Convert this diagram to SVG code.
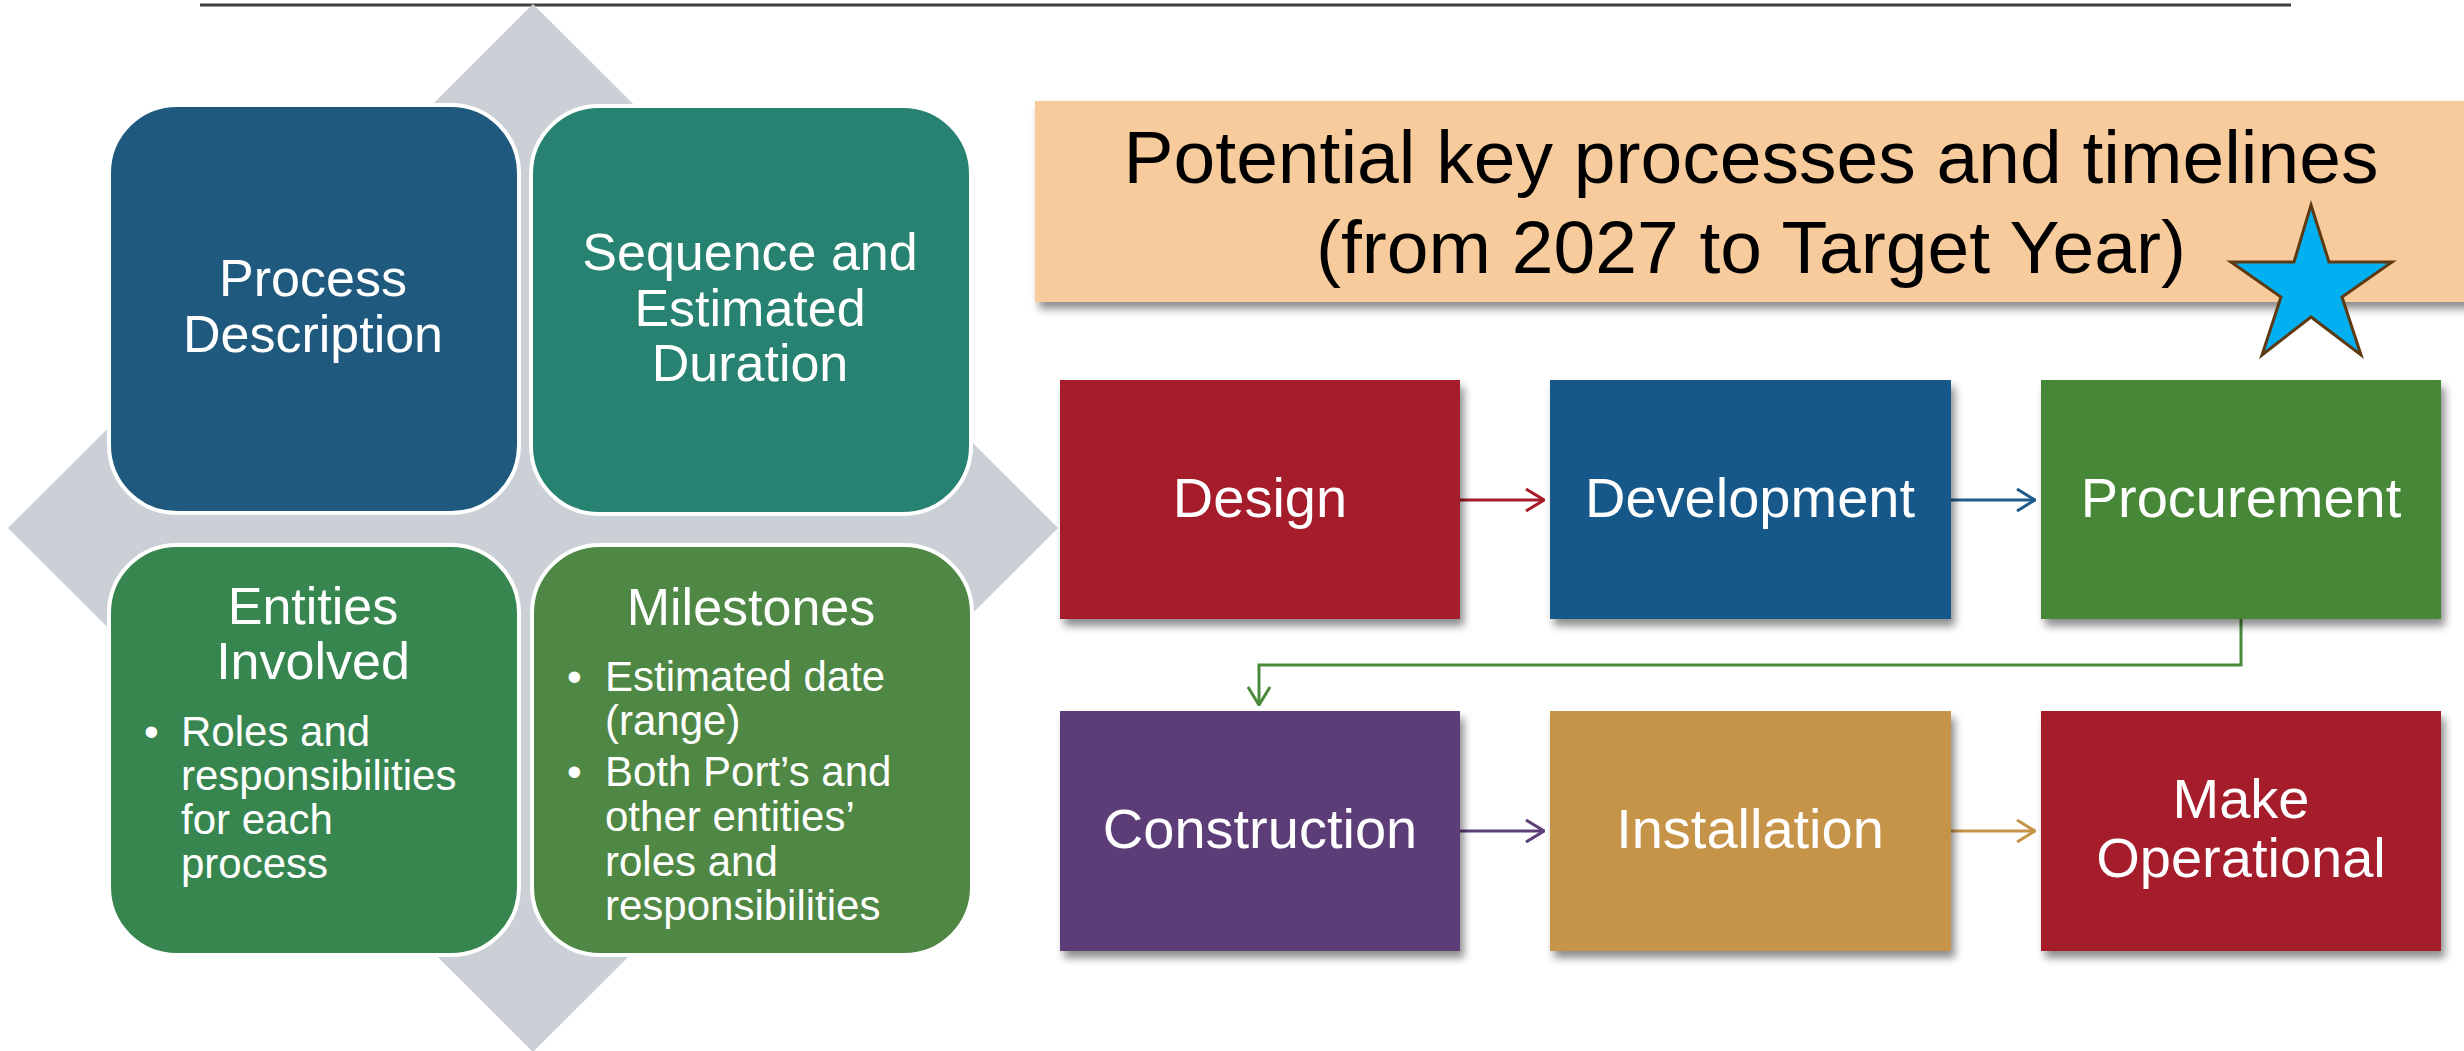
<svg xmlns="http://www.w3.org/2000/svg" width="2464" height="1051" viewBox="0 0 2464 1051">
<defs>
<style>
text{font-family:"Liberation Sans",Arial,sans-serif;fill:#fff}
.q{stroke:#fff;stroke-width:4}
.t1{font-size:52px;text-anchor:middle}
.b{font-size:42px}
.p{font-size:56px;text-anchor:middle}
.proc{filter:url(#sh)}
.c{fill:none;stroke-width:3}
</style>
<filter id="sh" x="-10%" y="-10%" width="125%" height="125%">
<feGaussianBlur in="SourceAlpha" stdDeviation="4"/>
<feOffset dx="4" dy="7" result="o"/>
<feComponentTransfer><feFuncA type="linear" slope="0.45"/></feComponentTransfer>
<feMerge><feMergeNode/><feMergeNode in="SourceGraphic"/></feMerge>
</filter>
<marker id="ar1" viewBox="0 0 20 24" refX="19" refY="12" markerWidth="20" markerHeight="24" markerUnits="userSpaceOnUse" orient="auto"><path d="M1 1 L19 12 L1 23" fill="none" stroke="#A51C2C" stroke-width="3"/></marker>
<marker id="ar2" viewBox="0 0 20 24" refX="19" refY="12" markerWidth="20" markerHeight="24" markerUnits="userSpaceOnUse" orient="auto"><path d="M1 1 L19 12 L1 23" fill="none" stroke="#1E5C8C" stroke-width="3"/></marker>
<marker id="ar3" viewBox="0 0 20 24" refX="19" refY="12" markerWidth="20" markerHeight="24" markerUnits="userSpaceOnUse" orient="auto"><path d="M1 1 L19 12 L1 23" fill="none" stroke="#4A8A3C" stroke-width="3"/></marker>
<marker id="ar4" viewBox="0 0 20 24" refX="19" refY="12" markerWidth="20" markerHeight="24" markerUnits="userSpaceOnUse" orient="auto"><path d="M1 1 L19 12 L1 23" fill="none" stroke="#5C3E78" stroke-width="3"/></marker>
<marker id="ar5" viewBox="0 0 20 24" refX="19" refY="12" markerWidth="20" markerHeight="24" markerUnits="userSpaceOnUse" orient="auto"><path d="M1 1 L19 12 L1 23" fill="none" stroke="#C69448" stroke-width="3"/></marker>
</defs>
<rect width="2464" height="1051" fill="#fff"/>
<line x1="200" y1="5" x2="2291" y2="5" stroke="#404040" stroke-width="3"/>

<g id="diamond"><polygon points="533,4 1058,528 533,1052 8,528" fill="#CBD0D6"/></g>

<g id="process-description">
<rect class="q" x="109" y="105" width="410" height="408" rx="68" fill="#1F5A7E"/>
<text class="t1" x="313" y="296">Process</text>
<text class="t1" x="313" y="352">Description</text>
</g>
<g id="sequence">
<rect class="q" x="531" y="106" width="440" height="408" rx="68" fill="#278272"/>
<text class="t1" x="750" y="270">Sequence and</text>
<text class="t1" x="750" y="326">Estimated</text>
<text class="t1" x="750" y="381">Duration</text>
</g>
<g id="entities">
<rect class="q" x="109" y="545" width="410" height="410" rx="68" fill="#378650"/>
<text class="t1" x="313" y="624">Entities</text>
<text class="t1" x="313" y="679">Involved</text>
<text class="b" x="144" y="746">•</text>
<text class="b" x="181" y="746">Roles and</text>
<text class="b" x="181" y="790">responsibilities</text>
<text class="b" x="181" y="834">for each</text>
<text class="b" x="181" y="878">process</text>
</g>
<g id="milestones">
<rect class="q" x="532" y="545" width="440" height="410" rx="68" fill="#4F8844"/>
<text class="t1" x="751" y="625">Milestones</text>
<text class="b" x="567" y="691">•</text>
<text class="b" x="605" y="691">Estimated date</text>
<text class="b" x="605" y="735">(range)</text>
<text class="b" x="567" y="786">•</text>
<text class="b" x="605" y="786">Both Port’s and</text>
<text class="b" x="605" y="831">other entities’</text>
<text class="b" x="605" y="876">roles and</text>
<text class="b" x="605" y="920">responsibilities</text>
</g>

<g id="title">
<rect x="1035" y="101" width="1440" height="201" fill="#F8CB9C" filter="url(#sh)"/>
<text x="1751" y="183" font-size="75" text-anchor="middle" style="fill:#000">Potential key processes and timelines</text>
<text x="1751" y="273" font-size="75" text-anchor="middle" style="fill:#000">(from 2027 to Target Year)</text>
</g>
<g id="star">
<polygon points="2311,205 2329,262 2392,262 2342,297 2361,355 2311,317 2262,355 2281,297 2231,262 2294,262" fill="#00B0F0" stroke="#5E3A12" stroke-width="3"/>
</g>

<g id="connectors">
<line class="c" x1="1460" y1="500" x2="1544" y2="500" stroke="#A51C2C" marker-end="url(#ar1)"/>
<line class="c" x1="1951" y1="500" x2="2035" y2="500" stroke="#1E5C8C" marker-end="url(#ar2)"/>
<polyline class="c" points="2241,619 2241,665 1259,665 1259,705" stroke="#4A8A3C" marker-end="url(#ar3)"/>
<line class="c" x1="1460" y1="831" x2="1544" y2="831" stroke="#5C3E78" marker-end="url(#ar4)"/>
<line class="c" x1="1951" y1="831" x2="2035" y2="831" stroke="#C69448" marker-end="url(#ar5)"/>
</g>

<g id="design" class="proc"><rect x="1060" y="380" width="400" height="239" fill="#A51A2B"/><text class="p" x="1260" y="517">Design</text></g>
<g id="development" class="proc"><rect x="1550" y="380" width="401" height="239" fill="#12588A"/><text class="p" x="1750" y="517">Development</text></g>
<g id="procurement" class="proc"><rect x="2041" y="380" width="400" height="239" fill="#468838"/><text class="p" x="2241" y="517">Procurement</text></g>
<g id="construction" class="proc"><rect x="1060" y="711" width="400" height="240" fill="#5C3E78"/><text class="p" x="1260" y="848">Construction</text></g>
<g id="installation" class="proc"><rect x="1550" y="711" width="401" height="240" fill="#C69448"/><text class="p" x="1750" y="848">Installation</text></g>
<g id="make-operational" class="proc"><rect x="2041" y="711" width="400" height="240" fill="#A51A2B"/><text class="p" x="2241" y="818">Make</text><text class="p" x="2241" y="877">Operational</text></g>
</svg>
